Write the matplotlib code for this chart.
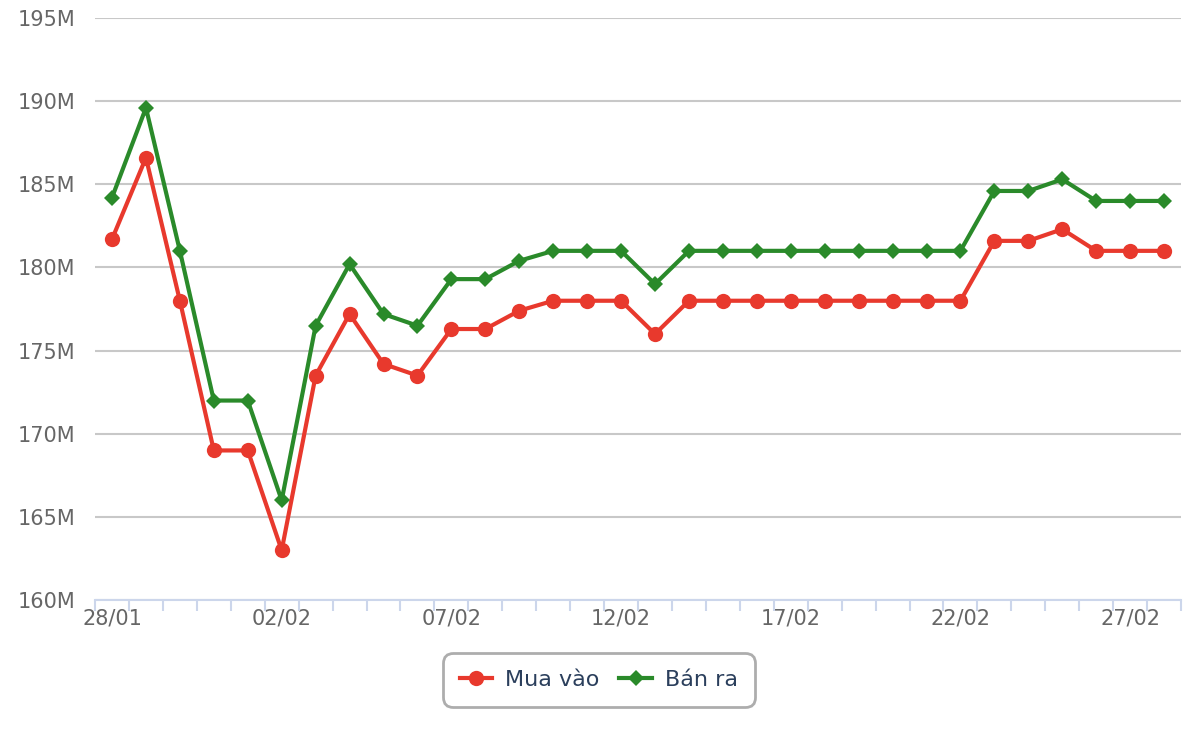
import numpy as np
import matplotlib.pyplot as plt
from matplotlib.ticker import FixedLocator, FuncFormatter

# daily dates 28/01 -> 28/02
dates = ["28/01", "29/01", "30/01", "31/01", "01/02", "02/02", "03/02", "04/02",
         "05/02", "06/02", "07/02", "08/02", "09/02", "10/02", "11/02", "12/02",
         "13/02", "14/02", "15/02", "16/02", "17/02", "18/02", "19/02", "20/02",
         "21/02", "22/02", "23/02", "24/02", "25/02", "26/02", "27/02", "28/02"]

# values in millions
mua_vao = [181.7, 186.6, 178.0, 169.0, 169.0, 163.0, 173.5, 177.2,
           174.2, 173.5, 176.3, 176.3, 177.4, 178.0, 178.0, 178.0,
           176.0, 178.0, 178.0, 178.0, 178.0, 178.0, 178.0, 178.0,
           178.0, 178.0, 181.6, 181.6, 182.3, 181.0, 181.0, 181.0]
ban_ra = [184.2, 189.6, 181.0, 172.0, 172.0, 166.0, 176.5, 180.2,
          177.2, 176.5, 179.3, 179.3, 180.4, 181.0, 181.0, 181.0,
          179.0, 181.0, 181.0, 181.0, 181.0, 181.0, 181.0, 181.0,
          181.0, 181.0, 184.6, 184.6, 185.3, 184.0, 184.0, 184.0]

red = "#e8392d"
green = "#2a8a2a"

fig = plt.figure(figsize=(12, 7.4), dpi=100)
ax = fig.add_axes([0.0792, 0.189, 0.905, 0.7867])

x = np.arange(len(dates))
ax.plot(x, mua_vao, color=red, lw=3, marker="o", markersize=11,
        markeredgewidth=0, label="Mua vào", zorder=3)
ax.plot(x, ban_ra, color=green, lw=3, marker="D", markersize=8,
        markeredgewidth=0, label="Bán ra", zorder=3)

ax.set_xlim(-0.5, len(dates) - 0.5)
ax.set_ylim(160, 195)
ax.set_yticks(np.arange(160, 196, 5))
ax.yaxis.set_major_formatter(FuncFormatter(lambda v, p: f"{int(v)}M"))
ax.grid(axis="y", color="#c8c8c8", lw=1.5)
ax.set_axisbelow(True)

# x ticks: marks between categories, labels every 5 days
ax.xaxis.set_major_locator(FixedLocator(np.arange(0, len(dates), 5)))
ax.set_xticklabels(dates[::5])
ax.xaxis.set_minor_locator(FixedLocator(np.arange(-0.5, len(dates), 1)))
ax.tick_params(axis="x", which="major", length=0, pad=6, labelsize=15, labelcolor="#666666")
ax.tick_params(axis="x", which="minor", length=8, width=1.5, color="#ccd6eb", direction="out")
ax.tick_params(axis="y", length=0, pad=14, labelsize=15, labelcolor="#666666")

for s in ["top", "right", "left"]:
    ax.spines[s].set_visible(False)
ax.spines["bottom"].set_color("#ccd6eb")
ax.spines["bottom"].set_linewidth(1.5)

leg = fig.legend(loc="center", bbox_to_anchor=(0.499, 0.081), ncol=2, frameon=True,
                 fontsize=16, handlelength=1.45, columnspacing=0.9, handletextpad=0.6,
                 borderpad=0.55, fancybox=True, labelcolor="#2b3f5c")
frame = leg.get_frame()
frame.set_edgecolor("#999999")
frame.set_linewidth(2)
frame.set_boxstyle("round", pad=0.2, rounding_size=0.45)

fig.savefig("out.png", dpi=100)
